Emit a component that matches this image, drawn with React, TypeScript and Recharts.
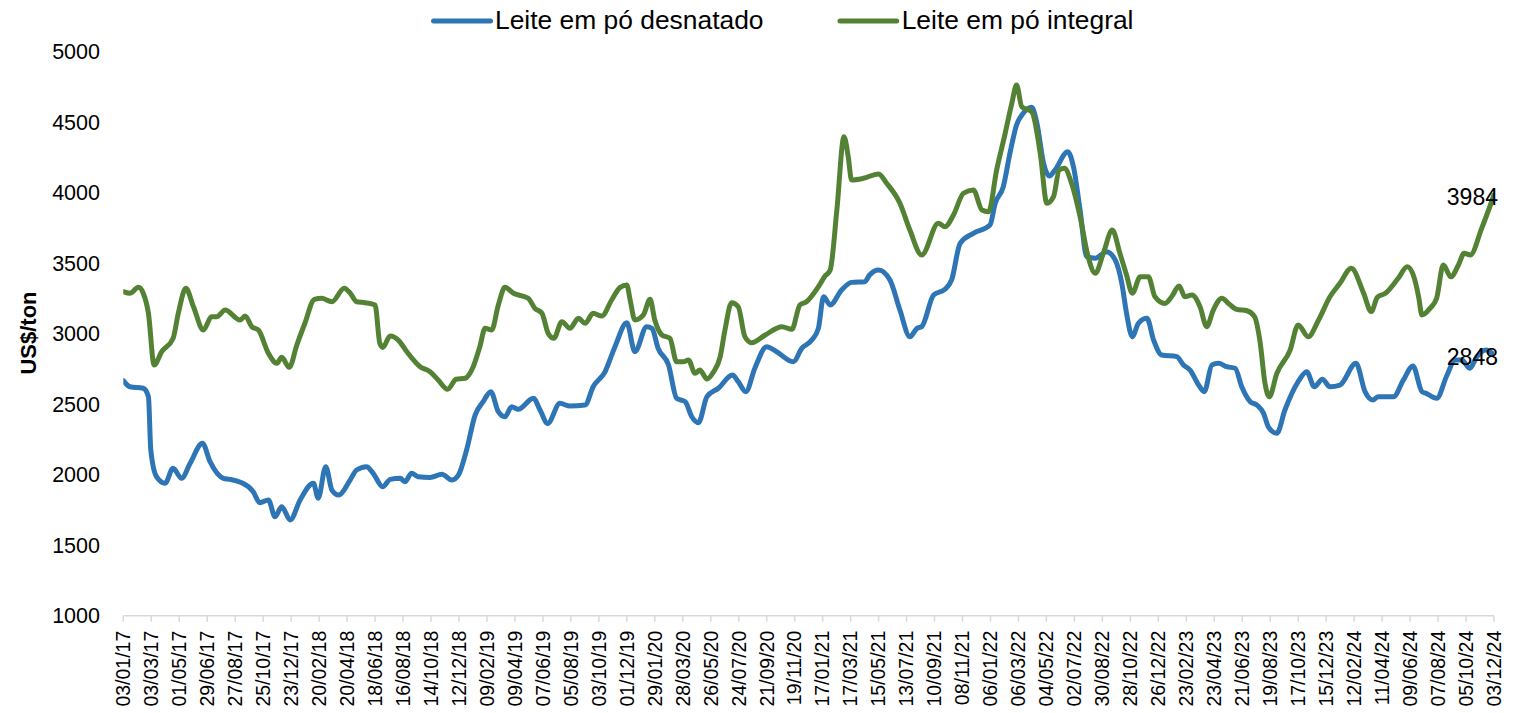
import React from "react";
import { LineChart, Line, XAxis, YAxis, Legend, LabelList } from "recharts";

// Day offsets are counted from 03/01/2017
const smpDays = [0, 14, 42, 53, 58, 70, 88, 105, 123, 141, 167, 183, 211, 225, 264, 274, 288, 306, 320, 334, 352, 373, 401, 411, 427, 440, 454, 478, 492, 513, 527, 547, 563, 584, 594, 608, 622, 647, 672, 693, 707, 724, 742, 759, 775, 791, 805, 819, 833, 865, 879, 895, 921, 942, 974, 991, 1016, 1037, 1062, 1079, 1104, 1115, 1128, 1150, 1167, 1185, 1199, 1213, 1231, 1255, 1285, 1297, 1313, 1332, 1357, 1378, 1413, 1431, 1452, 1466, 1477, 1491, 1515, 1536, 1564, 1574, 1593, 1617, 1638, 1659, 1674, 1684, 1709, 1733, 1747, 1765, 1793, 1828, 1839, 1856, 1870, 1884, 1898, 1916, 1927, 1941, 1953, 1965, 1992, 2004, 2018, 2032, 2050, 2074, 2092, 2106, 2116, 2128, 2141, 2159, 2173, 2190, 2222, 2236, 2250, 2268, 2280, 2296, 2310, 2327, 2345, 2359, 2377, 2391, 2405, 2415, 2433, 2450, 2478, 2496, 2512, 2529, 2545, 2566, 2600, 2619, 2635, 2647, 2679, 2700, 2720, 2739, 2748, 2770, 2792, 2809, 2823, 2840, 2855, 2874, 2891];
const smpValues = [2667, 2624, 2613, 2553, 2175, 1986, 1939, 2045, 1974, 2081, 2223, 2092, 1974, 1967, 1915, 1879, 1801, 1821, 1702, 1773, 1679, 1821, 1939, 1833, 2057, 1891, 1856, 1960, 2033, 2057, 2010, 1915, 1967, 1974, 1950, 2010, 1986, 1981, 2003, 1962, 1998, 2175, 2423, 2518, 2589, 2447, 2411, 2482, 2464, 2542, 2459, 2364, 2506, 2487, 2494, 2624, 2730, 2908, 3078, 2872, 3050, 3038, 2896, 2778, 2542, 2518, 2411, 2369, 2553, 2613, 2707, 2660, 2589, 2755, 2908, 2872, 2801, 2896, 2955, 3038, 3262, 3204, 3310, 3364, 3369, 3416, 3452, 3381, 3168, 2979, 3038, 3050, 3274, 3315, 3381, 3641, 3712, 3771, 3925, 4042, 4279, 4480, 4563, 4606, 4492, 4208, 4118, 4161, 4291, 4184, 3877, 3546, 3535, 3582, 3523, 3357, 3145, 2979, 3074, 3109, 2955, 2849, 2837, 2778, 2742, 2636, 2589, 2778, 2790, 2766, 2755, 2624, 2518, 2494, 2435, 2340, 2294, 2459, 2660, 2730, 2624, 2677, 2624, 2636, 2790, 2589, 2530, 2553, 2553, 2672, 2771, 2589, 2577, 2542, 2707, 2813, 2813, 2755, 2837, 2884, 2848];

const wmpDays = [0, 14, 32, 42, 53, 65, 81, 105, 116, 132, 148, 169, 186, 197, 215, 246, 257, 271, 285, 306, 324, 334, 350, 366, 383, 403, 418, 440, 466, 478, 492, 510, 531, 541, 547, 563, 580, 598, 626, 647, 664, 684, 702, 721, 738, 752, 763, 777, 791, 805, 823, 854, 868, 883, 896, 908, 925, 942, 960, 974, 991, 1009, 1030, 1048, 1062, 1069, 1079, 1097, 1111, 1121, 1136, 1153, 1167, 1181, 1192, 1206, 1216, 1231, 1245, 1259, 1269, 1283, 1297, 1311, 1325, 1354, 1389, 1410, 1427, 1441, 1466, 1479, 1491, 1505, 1520, 1529, 1536, 1561, 1593, 1610, 1638, 1659, 1684, 1719, 1733, 1751, 1772, 1793, 1811, 1825, 1842, 1860, 1874, 1884, 1895, 1916, 1934, 1948, 1962, 1974, 1985, 2000, 2018, 2035, 2050, 2067, 2086, 2102, 2116, 2128, 2145, 2162, 2176, 2197, 2211, 2227, 2239, 2254, 2271, 2285, 2299, 2317, 2331, 2348, 2370, 2386, 2398, 2408, 2417, 2433, 2461, 2478, 2499, 2521, 2545, 2566, 2590, 2616, 2632, 2645, 2662, 2689, 2708, 2722, 2732, 2739, 2756, 2770, 2784, 2800, 2816, 2828, 2841, 2865, 2891];
const wmpValues = [3298, 3287, 3329, 3287, 3145, 2778, 2872, 2967, 3145, 3322, 3191, 3026, 3120, 3120, 3168, 3097, 3125, 3050, 3026, 2861, 2790, 2833, 2762, 2920, 3074, 3244, 3251, 3227, 3322, 3290, 3227, 3220, 3204, 2932, 2903, 2984, 2955, 2872, 2766, 2730, 2672, 2606, 2677, 2684, 2766, 2908, 3038, 3026, 3204, 3329, 3287, 3251, 3180, 3145, 3003, 2967, 3085, 3038, 3109, 3074, 3145, 3125, 3239, 3329, 3345, 3239, 3097, 3133, 3244, 3097, 2991, 2967, 2801, 2801, 2813, 2719, 2742, 2679, 2730, 2837, 3026, 3220, 3191, 2979, 2936, 2991, 3050, 3031, 3204, 3227, 3333, 3404, 3452, 3877, 4397, 4255, 4090, 4102, 4133, 4067, 3925, 3735, 3558, 3783, 3759, 3842, 3996, 4019, 3877, 3865, 4161, 4421, 4634, 4764, 4610, 4574, 4279, 3925, 3972, 4161, 4173, 4067, 3830, 3546, 3428, 3570, 3735, 3570, 3416, 3287, 3404, 3404, 3262, 3215, 3262, 3338, 3262, 3274, 3191, 3050, 3168, 3251, 3215, 3173, 3163, 3120, 2932, 2648, 2553, 2719, 2884, 3062, 2979, 3097, 3262, 3357, 3464, 3287, 3156, 3258, 3287, 3393, 3475, 3404, 3262, 3133, 3180, 3251, 3487, 3404, 3487, 3570, 3558, 3747, 3984];

const seriesNames = ["Leite em pó desnatado", "Leite em pó integral"];
const seriesColors = ["#2E75B6", "#548235"];
const yTicks = [1000, 1500, 2000, 2500, 3000, 3500, 4000, 4500, 5000];
const xTickStep = 59;
const xLastDay = 2891;
const startDateUTC = Date.UTC(2017, 0, 3);

const xTicks: number[] = [];
for (let d = 0; d <= xLastDay; d += xTickStep) xTicks.push(d);

const smpData = smpDays.map((d, i) => ({ d, v: smpValues[i] }));
const wmpData = wmpDays.map((d, i) => ({ d, v: wmpValues[i] }));

const pad = (n: number) => (n < 10 ? "0" + n : "" + n);
const fmtDate = (d: number) => {
  const dt = new Date(startDateUTC + d * 86400000);
  return `${pad(dt.getUTCDate())}/${pad(dt.getUTCMonth() + 1)}/${pad(dt.getUTCFullYear() % 100)}`;
};

const FONT = "'Liberation Sans', Arial, sans-serif";

const XTick = (props: any) => {
  const { x, y, payload } = props;
  return (
    <g transform={`translate(${x},${y})`}>
      <text
        transform="rotate(-90)"
        textAnchor="end"
        dy="0.35em"
        fontSize={19.5}
        fontFamily={FONT}
        fill="#000"
      >
        {fmtDate(payload.value)}
      </text>
    </g>
  );
};

const YTick = (props: any) => {
  const { x, y, payload } = props;
  return (
    <text x={x} y={y} dy="0.35em" textAnchor="end" fontSize={21.5} fontFamily={FONT} fill="#000">
      {payload.value}
    </text>
  );
};

const makeEndLabel = (lastIndex: number, value: number) => (props: any) => {
  const { x, y, index } = props;
  if (index !== lastIndex) return null;
  return (
    <text x={x + 4} y={y + 10} textAnchor="end" fontSize={23} fontFamily={FONT} fill="#000">
      {value}
    </text>
  );
};

const LegendContent = () => (
  <svg width={1500} height={40} style={{ display: "block", overflow: "visible" }}>
    <line x1={425.5} y1={13} x2={482.5} y2={13} stroke={seriesColors[0]} strokeWidth={5} strokeLinecap="round" />
    <text x={487} y={21.3} fontSize={26.4} fontFamily={FONT} fill="#000">
      {seriesNames[0]}
    </text>
    <line x1={832} y1={13} x2={888.7} y2={13} stroke={seriesColors[1]} strokeWidth={5} strokeLinecap="round" />
    <text x={893.7} y={21.3} fontSize={26.4} fontFamily={FONT} fill="#000">
      {seriesNames[1]}
    </text>
  </svg>
);

export default function App() {
  return (
    <div style={{ width: 1500, height: 704 }}>
      <LineChart width={1500} height={704} margin={{ top: 43.7, right: 14, left: 0, bottom: 0 }}>
        <XAxis
          type="number"
          dataKey="d"
          domain={[0, xLastDay]}
          ticks={xTicks}
          interval={0}
          height={96.3}
          tick={<XTick />}
          tickSize={6}
          tickMargin={9}
          axisLine={{ stroke: "#D9D9D9", strokeWidth: 1.5 }}
          tickLine={{ stroke: "#D9D9D9", strokeWidth: 1.5 }}
          allowDataOverflow
        />
        <YAxis
          type="number"
          domain={[1000, 5000]}
          ticks={yTicks}
          interval={0}
          width={115.3}
          axisLine={false}
          tickLine={false}
          tickSize={0}
          tickMargin={23.3}
          tick={<YTick />}
          label={{
            content: () => (
              <text
                x={20.3}
                y={325}
                transform="rotate(-90, 20.3, 325)"
                textAnchor="middle"
                dy="0.35em"
                fontSize={22}
                fontWeight="bold"
                fontFamily={FONT}
                fill="#000"
              >
                US$/ton
              </text>
            ),
          }}
        />
        <Legend
          layout="horizontal"
          verticalAlign="middle"
          align="center"
          wrapperStyle={{ top: 0, left: 0, width: 1500, height: 40, overflow: "visible" }}
          content={<LegendContent />}
        />
        <Line
          data={smpData}
          dataKey="v"
          name={seriesNames[0]}
          type="monotone"
          stroke={seriesColors[0]}
          strokeWidth={5}
          strokeLinecap="round"
          strokeLinejoin="round"
          dot={false}
          activeDot={false}
          isAnimationActive={false}
        >
          <LabelList dataKey="v" content={makeEndLabel(smpData.length - 1, smpValues[smpValues.length - 1])} />
        </Line>
        <Line
          data={wmpData}
          dataKey="v"
          name={seriesNames[1]}
          type="monotone"
          stroke={seriesColors[1]}
          strokeWidth={5}
          strokeLinecap="round"
          strokeLinejoin="round"
          dot={false}
          activeDot={false}
          isAnimationActive={false}
        >
          <LabelList dataKey="v" content={makeEndLabel(wmpData.length - 1, wmpValues[wmpValues.length - 1])} />
        </Line>
      </LineChart>
    </div>
  );
}
